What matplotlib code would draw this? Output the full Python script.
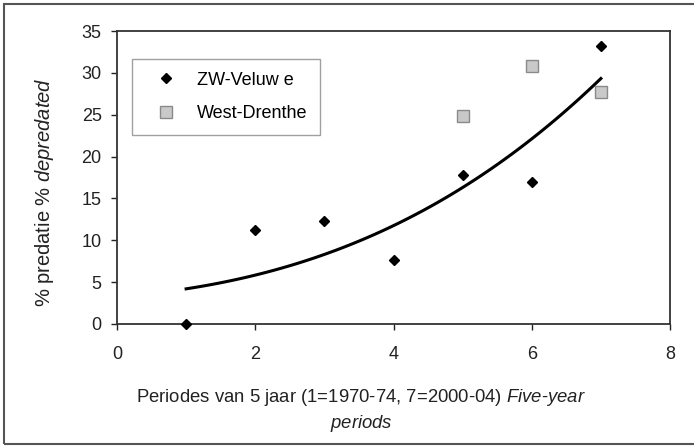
import numpy as np
import matplotlib.pyplot as plt
from matplotlib.patches import Rectangle

plt.rcParams['font.family'] = 'Liberation Sans'
plt.rcParams['mathtext.fontset'] = 'custom'
plt.rcParams['mathtext.it'] = 'Liberation Sans:italic'
plt.rcParams['mathtext.rm'] = 'Liberation Sans'

# data
periods = [1, 2, 3, 4, 5, 6, 7]
zw_veluwe = [0.0, 11.2, 12.3, 7.6, 17.8, 17.0, 33.2]
drenthe_x = [5, 6, 7]
west_drenthe = [24.9, 30.8, 27.7]
# trendline
trend_x = [1, 1.5, 2, 2.5, 3, 3.5, 4, 4.5, 5, 5.5, 6, 6.5, 7]
trend_y = [4.3, 4.8, 5.8, 7.0, 8.3, 9.9, 11.8, 13.9, 16.4, 19.0, 22.0, 25.5, 29.4]

W, H = 694, 447
fig = plt.figure(figsize=(W / 100, H / 100), dpi=100)
ax = fig.add_axes([117 / W, 1 - 324 / H, (670 - 117) / W, (324 - 31) / H])

# smooth trendline through the read values
coef = np.polyfit(trend_x, trend_y, 3)
xs = np.linspace(trend_x[0], trend_x[-1], 100)
ax.plot(xs, np.polyval(coef, xs), color='black', lw=2.2, zorder=2)

ax.plot(periods, zw_veluwe, 'D', color='black', ms=5.5, ls='none',
        label='ZW-Veluw e', zorder=3, clip_on=False)
ax.plot(drenthe_x, west_drenthe, 's', mfc='#c9c9c9', mec='#8a8a8a', mew=1,
        ms=9, ls='none', label='West-Drenthe', zorder=3)

ax.set_xlim(0, 8)
ax.set_ylim(0, 35)
ax.set_xticks(range(0, 9, 2))
ax.set_yticks(range(0, 36, 5))
ax.tick_params(direction='out', length=4, width=1, labelsize=13, colors='#222222')
ax.tick_params(axis='x', pad=12)
ax.tick_params(axis='y', pad=7)
for s in ax.spines.values():
    s.set_linewidth(1.3)
    s.set_color('#333333')

leg = ax.legend(loc='upper left', bbox_to_anchor=(132 / W, 1 - 59 / H),
                bbox_transform=fig.transFigure, fontsize=13, frameon=True,
                fancybox=False, edgecolor='#888888', borderpad=0.7,
                labelspacing=0.9, handlelength=2.4, handletextpad=0.5,
                borderaxespad=0)
leg.get_frame().set_linewidth(1)

fig.text(45 / W, 1 - 192 / H, r'% predatie % $\mathit{depredated}$',
         rotation=90, ha='center', va='center', fontsize=14.5, color='#222222')
fig.text(361 / W, 1 - 397 / H,
         r'Periodes van 5 jaar (1=1970-74, 7=2000-04) $\mathit{Five}$-$\mathit{year}$',
         ha='center', va='center', fontsize=13.3, color='#222222')
fig.text(361 / W, 1 - 424 / H, r'$\mathit{periods}$',
         ha='center', va='center', fontsize=13.3, color='#222222')

fig.patches.append(Rectangle((4 / W, 1 - 444 / H), 1.0, (444 - 4) / H,
                             transform=fig.transFigure, fill=False,
                             edgecolor='#555555', lw=1.5))

fig.savefig('out.png', dpi=100)
